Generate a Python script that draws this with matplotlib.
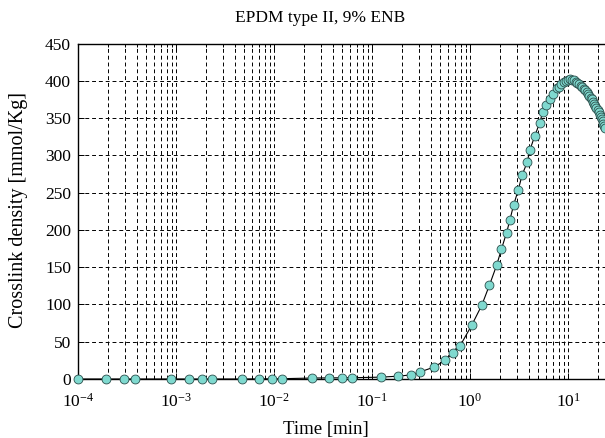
"""
Crosslink density vs. time for EPDM type II (9% ENB), log time axis.
Saves out.png (605x438 px).
"""

import matplotlib.pyplot as plt
from matplotlib.ticker import FixedLocator

plt.rcParams["font.family"] = ["Liberation Serif", "DejaVu Serif"]
plt.rcParams["mathtext.fontset"] = "custom"
plt.rcParams["mathtext.rm"] = "Liberation Serif"
plt.rcParams["mathtext.it"] = "Liberation Serif:italic"

# --- data ---
time_min = [
    1e-4, 1.91e-4, 2.94e-4, 3.86e-4, 8.8e-4, 1.35e-3, 1.85e-3, 2.34e-3,
    4.73e-3, 7.0e-3, 9.6e-3, 1.21e-2, 2.45e-2, 0.0368, 0.0495, 0.0618,
    0.124, 0.1845, 0.251, 0.31, 0.43, 0.557, 0.673, 0.793,
    1.04, 1.32, 1.58, 1.87, 2.09, 2.36, 2.55, 2.78, 3.10, 3.40, 3.83,
    4.07, 4.58, 5.12, 5.53, 5.98, 6.62, 7.11, 7.74,
    8.0, 8.5, 9.0, 9.5, 10.0, 10.5, 11.0, 11.5, 12.0, 12.5, 13.0, 13.5,
    14.0, 14.5, 15.0, 15.5, 16.0, 16.5, 17.0, 17.5, 18.0, 18.5, 19.0,
    19.5, 20.0, 20.5, 21.0, 21.5, 22.0, 22.5, 23.0, 23.5, 24.0,
]
crosslink = [
    0, 0, 0, 0, 0, 0, 0, 0,
    0, 0.2, 0.3, 0.4, 1.3, 1.5, 1.6, 1.7,
    2.5, 3.8, 5.5, 9.5, 16, 25, 35, 44.6,
    72, 99, 126, 152.5, 174, 196, 213, 233, 253, 273.5, 290.5,
    306.6, 326, 343, 358, 367, 376, 382.4, 389.7,
    392, 395.5, 398, 400, 401.3, 401.8, 401.5, 400.5, 399, 397.3, 395.3, 393.2,
    391, 388.6, 387, 385, 382.5, 380, 377.5, 375, 372, 369.5, 366.5,
    363.5, 360.5, 357.5, 354.5, 351.5, 348.5, 345.5, 342.5, 339.5, 336.5,
]
y_ticks = [0, 50, 100, 150, 200, 250, 300, 350, 400, 450]
x_major = [1e-4, 1e-3, 1e-2, 1e-1, 1e0, 1e1]

W, H = 605, 438
fig = plt.figure(figsize=(W / 100, H / 100), dpi=100)
# axes runs past the right edge of the picture (the reference is cropped)
left, bottom, top = 78, 379, 43.5
decade = 98.0
ax = fig.add_axes([left / W, (H - bottom) / H, 6 * decade / W, (bottom - top) / H])

ax.plot(time_min, crosslink, color="black", lw=0.8, marker="o", ms=6.4,
        mfc="#7fd9cf", mec="#2b4f4c", mew=0.6, clip_on=False, zorder=3)

ax.set_xscale("log")
ax.set_xlim(1e-4, 1e2)
ax.set_ylim(0, 450)
ax.set_yticks(y_ticks)
ax.xaxis.set_major_locator(FixedLocator(x_major))

dash = (0, (4, 3))
ax.grid(True, which="major", axis="both", color="black", lw=0.7, linestyle=dash)
ax.grid(True, which="minor", axis="x", color="black", lw=0.7, linestyle=dash)

ax.tick_params(which="both", direction="in", top=True, right=True,
               labelsize=12.5, width=0.7)
ax.tick_params(which="major", length=4)
ax.tick_params(which="minor", length=2.5)
ax.tick_params(axis="x", pad=10)
ax.tick_params(axis="y", pad=5)
for s in ax.spines.values():
    s.set_linewidth(1.0)

fig.text(19 / W, 1 - 210 / H, "Crosslink density [mmol/Kg]", rotation=90,
         ha="center", va="center", fontsize=14.5)
ax.set_xlabel("Time [min]", fontsize=13.5)
ax.xaxis.set_label_coords((326 - left) / (6 * decade), -0.125)
fig.text(320 / W, 1 - 18 / H, "EPDM type II, 9% ENB", ha="center", va="center",
         fontsize=12.5)

fig.savefig("out.png", dpi=100)
